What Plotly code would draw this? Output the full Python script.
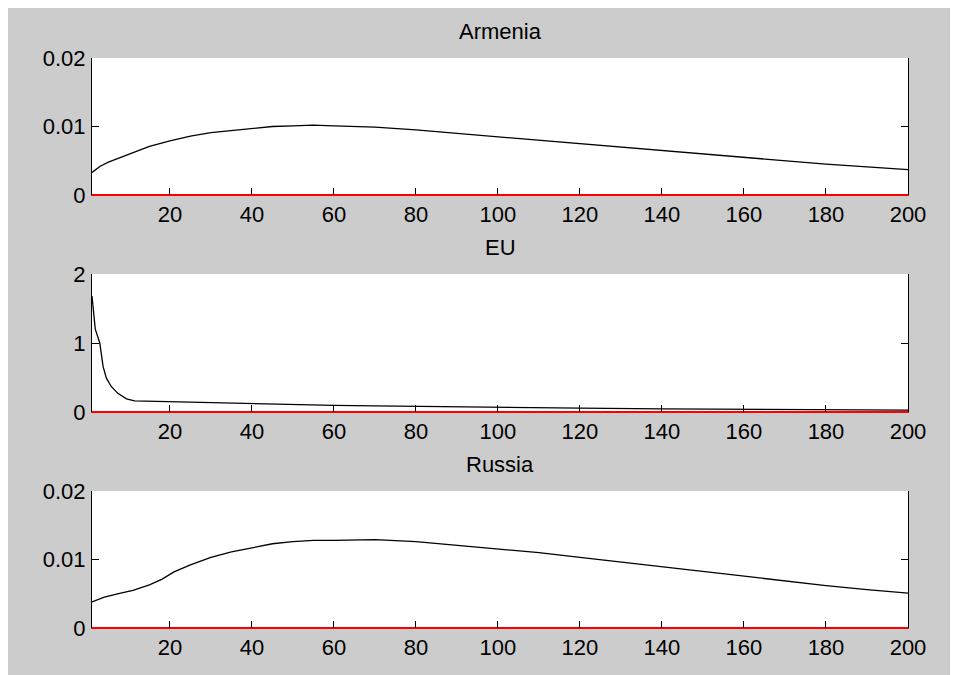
import plotly.graph_objects as go

# ---- data ----
steps = [1, 3, 5, 10, 15, 20, 25, 30, 35, 40, 45, 50, 55, 60, 70, 80,
         90, 100, 110, 120, 130, 140, 150, 160, 170, 180, 190, 200]
armenia = [0.0033, 0.0042, 0.0048, 0.0060, 0.0071, 0.0079, 0.0086, 0.0091,
           0.0094, 0.0098, 0.0100, 0.0101, 0.0102, 0.0101, 0.0099, 0.0095,
           0.0090, 0.0085, 0.0080, 0.0075, 0.0069, 0.0064, 0.0059, 0.0054,
           0.0049, 0.0045, 0.0041, 0.0037]
russia_steps = [1, 4, 8, 11, 15, 18, 21, 25, 30, 35, 40, 45, 50, 55, 60,
                65, 70, 80, 90, 100, 110, 120, 130, 140, 150, 160, 170, 180,
                190, 200]
russia = [0.0038, 0.0045, 0.0051, 0.0055, 0.0063, 0.0071, 0.0082, 0.0092,
          0.0103, 0.0111, 0.0117, 0.0123, 0.0126, 0.0128, 0.0128, 0.0129,
          0.0129, 0.0126, 0.0121, 0.0116, 0.0110, 0.0103, 0.0096, 0.0089,
          0.0082, 0.0075, 0.0068, 0.0062, 0.0056, 0.0051]
eu_steps = [1, 1.3, 1.8, 2.9, 3.7, 4.5, 5.7, 7.3, 9.4, 11.4, 15, 20, 25,
            30, 40, 50, 60, 70, 80, 90, 100, 120, 140, 160, 180, 200]
eu = [1.68, 1.45, 1.20, 1.00, 0.66, 0.49, 0.37, 0.27, 0.19, 0.16, 0.155,
      0.15, 0.145, 0.13, 0.12, 0.11, 0.095, 0.088, 0.08, 0.072, 0.065,
      0.055, 0.045, 0.038, 0.032, 0.027]
zero_x = [1, 200]
zero_y = [0, 0]

titles = ["Armenia", "EU", "Russia"]
x_ticks = [20, 40, 60, 80, 100, 120, 140, 160, 180, 200]
x_ticktext = ["20", "40", "60", "80", "100", "120", "140", "160", "180", "200"]
y_ticks_small = [0, 0.01, 0.02]
y_ticktext_small = ["0", "0.01", "0.02"]
y_ticks_eu = [0, 1, 2]
y_ticktext_eu = ["0", "1", "2"]

# ---- layout geometry (pixels, figure coordinates; page adds an 8px body margin) ----
W, H = 950, 667
L, R, T, B = 84, 50, 50, 47
PH = H - T - B
panels_px = [(50, 187), (266, 404), (483, 620)]
domains = [[(H - B - b) / PH, (H - B - t) / PH] for t, b in panels_px]

FONT = "Liberation Sans, Arial, sans-serif"
FS = 22
GRAY = "#cccccc"

fig = go.Figure()
series = [(steps, armenia), (eu_steps, eu), (russia_steps, russia)]
for i, (xs, ys) in enumerate(series):
    xa = "x" if i == 0 else f"x{i+1}"
    ya = "y" if i == 0 else f"y{i+1}"
    fig.add_trace(go.Scatter(x=xs, y=ys, mode="lines", xaxis=xa, yaxis=ya,
                             line=dict(color="black", width=1.3),
                             showlegend=False, hoverinfo="skip"))
    fig.add_trace(go.Scatter(x=zero_x, y=zero_y, mode="lines", xaxis=xa, yaxis=ya,
                             line=dict(color="#ff0000", width=2),
                             showlegend=False, hoverinfo="skip"))

layout = dict(
    width=W, height=H,
    margin=dict(l=L, r=R, t=T, b=B),
    paper_bgcolor=GRAY, plot_bgcolor="white",
    font=dict(family=FONT, size=FS, color="black"),
    showlegend=False,
)

for i in range(3):
    sfx = "" if i == 0 else str(i + 1)
    yname = "y" + sfx
    xname = "x" + sfx
    layout["xaxis" + sfx] = dict(
        domain=[0, 1], anchor=yname, range=[1, 200],
        tickvals=x_ticks, ticktext=x_ticktext,
        ticks="inside", ticklen=7, tickwidth=1, tickcolor="black",
        showline=True, linecolor="#ff0000", linewidth=1,
        showgrid=False, zeroline=False, ticklabelstandoff=0,
        tickfont=dict(family=FONT, size=FS, color="black"),
    )
    layout["xaxis" + str(i + 4)] = dict(
        overlaying=xname, anchor=yname, side="top", range=[1, 200],
        tickvals=x_ticks, showticklabels=False,
        ticks="inside", ticklen=7, tickwidth=1, tickcolor="black",
        showline=True, linecolor="black", linewidth=1,
        showgrid=False, zeroline=False,
    )
    if i == 1:
        yr, tv, tt = [0, 2], y_ticks_eu, y_ticktext_eu
    else:
        yr, tv, tt = [0, 0.02], y_ticks_small, y_ticktext_small
    layout["yaxis" + sfx] = dict(
        domain=domains[i], anchor=xname, range=yr,
        tickvals=tv, ticktext=tt,
        ticks="inside", ticklen=7, tickwidth=1, tickcolor="black",
        showline=True, linecolor="black", linewidth=1, mirror="ticks",
        showgrid=False, zeroline=False, ticklabelstandoff=1,
        tickfont=dict(family=FONT, size=FS, color="black"),
    )

fig.update_layout(**layout)

# subplot titles
for i, title in enumerate(titles):
    fig.add_annotation(text=title, xref="paper", yref="paper",
                       x=0.5, y=domains[i][1], xanchor="center", yanchor="bottom",
                       yshift=13, showarrow=False, borderpad=0,
                       font=dict(family=FONT, size=FS, color="black"))

fig.write_html("out.html")
